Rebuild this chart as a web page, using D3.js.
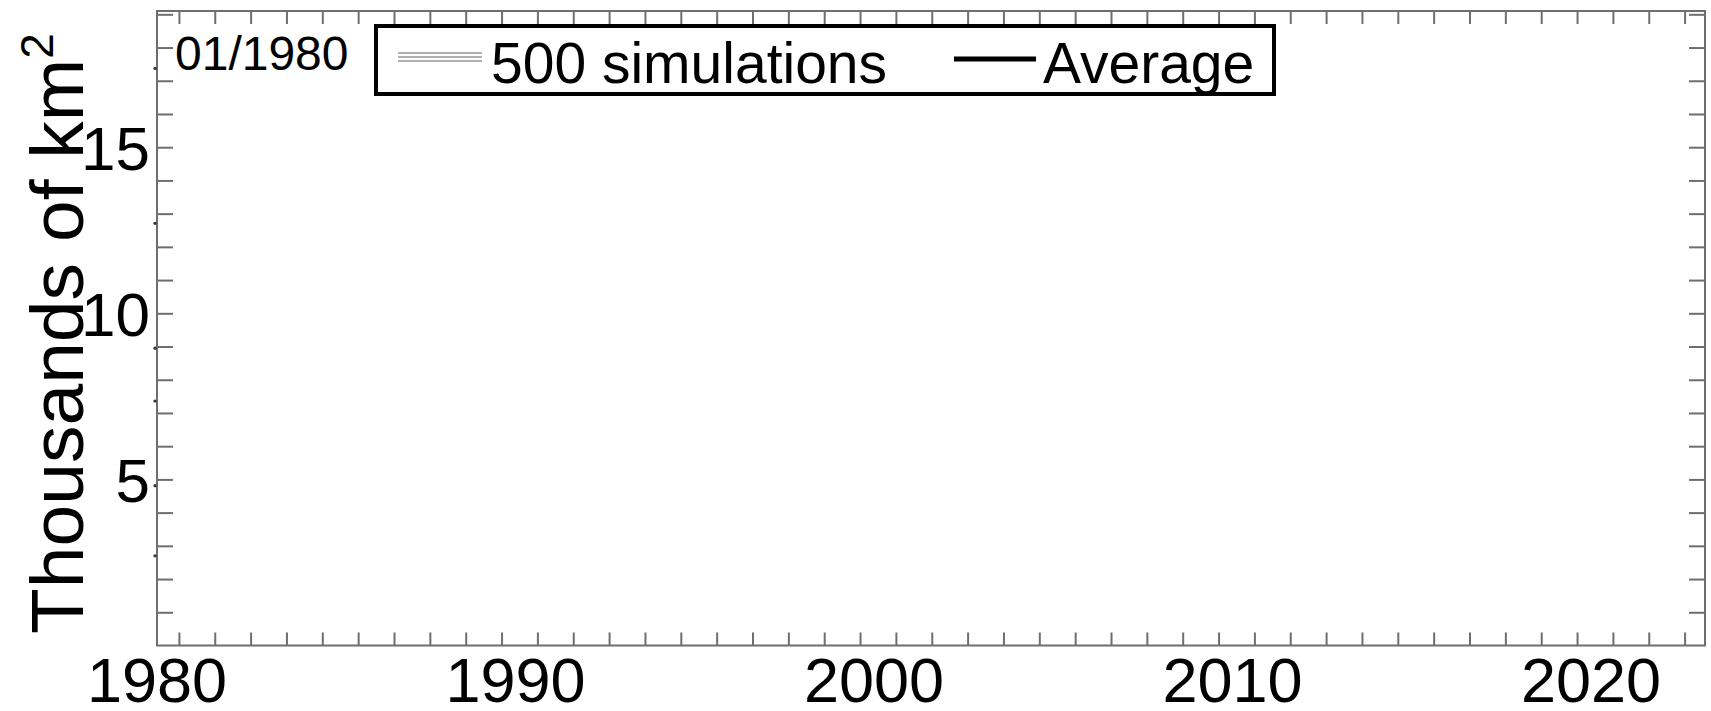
<!DOCTYPE html>
<html>
<head>
<meta charset="utf-8">
<script src="https://cdn.jsdelivr.net/npm/d3@7"></script>
<style>
  html, body { margin: 0; padding: 0; background: #fff; }
  svg { display: block; }
  text { font-family: "Liberation Sans", Arial, Helvetica, sans-serif; fill: #000; }
</style>
</head>
<body>
<svg id="chart" width="1711" height="711"></svg>
<script>
// Frame label: month shown in this snapshot
const frameLabel = "01/1980";

// Starting values (thousands of km²) of the simulations visible at 01/1980
const simulationStartValues = [17.37, 12.71, 8.95, 7.36, 4.81, 2.70];
const startTime = 1980.0;

// Axes
const xDomain = [1980.056, 2023.236];
const yDomain = [0, 19.1];
const xLabelYears = [1980, 1990, 2000, 2010, 2020];
const xMinorTickYears = [1980.667, 1981.667, 1982.667, 1983.667, 1984.667, 1985.667, 1986.667,
  1987.667, 1988.667, 1989.667, 1990.667, 1991.667, 1992.667, 1993.667, 1994.667, 1995.667,
  1996.667, 1997.667, 1998.667, 1999.667, 2000.667, 2001.667, 2002.667, 2003.667, 2004.667,
  2005.667, 2006.667, 2007.667, 2008.667, 2009.667, 2010.667, 2011.667, 2012.667, 2013.667,
  2014.667, 2015.667, 2016.667, 2017.667, 2018.667, 2019.667, 2020.667, 2021.667, 2022.667];
const yLabelValues = [5, 10, 15];
const yMinorTickValues = [1, 2, 3, 4, 5, 6, 7, 8, 9, 10, 11, 12, 13, 14, 15, 16, 17, 18, 19];

// Legend entries
const legendLabels = ["500 simulations", "Average"];

const svg = d3.select("#chart");
const plot = { left: 157, right: 1705, top: 11, bottom: 645.5 };

const x = d3.scaleLinear().domain(xDomain).range([plot.left, plot.right]);
const y = d3.scaleLinear().domain(yDomain).range([plot.bottom, plot.top]);

const axisColor = "#6e6e6e";

// Plot frame
svg.append("rect")
  .attr("x", plot.left).attr("y", plot.top)
  .attr("width", plot.right - plot.left).attr("height", plot.bottom - plot.top)
  .attr("fill", "none").attr("stroke", axisColor).attr("stroke-width", 2);

// Inward ticks on all four sides
const xTickLen = 13, yTickLen = 16;
const bottomAxis = d3.axisBottom(x).tickValues(xMinorTickYears).tickSize(-xTickLen).tickFormat("");
const topAxis = d3.axisTop(x).tickValues(xMinorTickYears).tickSize(-xTickLen).tickFormat("");
const leftAxis = d3.axisLeft(y).tickValues(yMinorTickValues).tickSize(-yTickLen).tickFormat("");
const rightAxis = d3.axisRight(y).tickValues(yMinorTickValues).tickSize(-yTickLen).tickFormat("");

function styleAxis(g) {
  g.select(".domain").remove();
  g.selectAll(".tick line").attr("stroke", axisColor).attr("stroke-width", 2);
}
svg.append("g").attr("transform", `translate(0,${plot.bottom})`).call(bottomAxis).call(styleAxis);
svg.append("g").attr("transform", `translate(0,${plot.top})`).call(topAxis).call(styleAxis);
svg.append("g").attr("transform", `translate(${plot.left},0)`).call(leftAxis).call(styleAxis);
svg.append("g").attr("transform", `translate(${plot.right},0)`).call(rightAxis).call(styleAxis);

// Year labels
svg.append("g").selectAll("text").data(xLabelYears).join("text")
  .attr("x", d => x(d) + 2).attr("y", 702)
  .attr("text-anchor", "middle")
  .style("font-size", "63px")
  .text(d => d);

// Value labels
svg.append("g").selectAll("text").data(yLabelValues).join("text")
  .attr("x", 150).attr("y", d => y(d) + 23)
  .attr("text-anchor", "end")
  .style("font-size", "62px")
  .text(d => d);

// Y axis title
const yTitle = svg.append("text")
  .attr("transform", "translate(83,634) rotate(-90)")
  .attr("text-anchor", "start")
  .style("font-size", "75px");
yTitle.append("tspan").text("Thousands of km");
yTitle.append("tspan").attr("dy", -30).style("font-size", "46px").text("2");

// Simulation start points at 01/1980
svg.append("g").selectAll("circle").data(simulationStartValues).join("circle")
  .attr("cx", x(startTime)).attr("cy", d => y(d))
  .attr("r", 1.6).attr("fill", "#333");

// Month label
svg.append("text")
  .attr("x", 175).attr("y", 70)
  .style("font-size", "48px")
  .text(frameLabel);

// Legend
const legend = svg.append("g");
legend.append("rect")
  .attr("x", 376).attr("y", 26).attr("width", 898).attr("height", 68)
  .attr("fill", "#fff").attr("stroke", "#000").attr("stroke-width", 4);
[-4, 0, 4].forEach(off => {
  legend.append("line")
    .attr("x1", 398).attr("x2", 482).attr("y1", 57 + off).attr("y2", 57 + off)
    .attr("stroke", "#b0b0b0").attr("stroke-width", 2);
});
legend.append("text").attr("x", 491).attr("y", 83).style("font-size", "57px").text(legendLabels[0]);
legend.append("line")
  .attr("x1", 954).attr("x2", 1036).attr("y1", 59).attr("y2", 59)
  .attr("stroke", "#000").attr("stroke-width", 5);
legend.append("text").attr("x", 1043).attr("y", 83).style("font-size", "57px").text(legendLabels[1]);
</script>
</body>
</html>
